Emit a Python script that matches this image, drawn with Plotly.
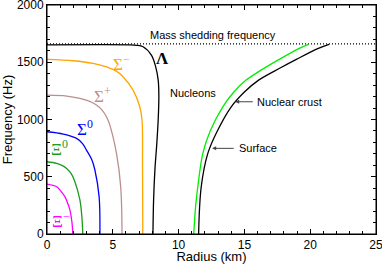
import plotly.graph_objects as go

# Data (radius km, frequency Hz)
lam_r = [8.05, 8.1, 8.2, 8.35, 8.45, 8.5, 8.45, 8.26, 7.93, 7.3, 6.8, 6.3, 0]
lam_f = [0, 300, 560, 800, 1000, 1200, 1344, 1460, 1562, 1635, 1648, 1652, 1652]

sm_r = [0, 2.0, 3.5, 4.52, 5.3, 5.78, 6.54, 7.05, 7.22, 7.26, 7.28]
sm_f = [1525, 1513, 1490, 1460, 1420, 1373, 1257, 1111, 995, 600, 0]

sp_r = [0, 1.5, 2.5, 3.2, 3.76, 4.2, 4.52, 4.75, 5.28, 5.6, 5.7]
sp_f = [1213, 1205, 1184, 1160, 1126, 1080, 1024, 960, 704, 413, 0]

s0_r = [0, 1.24, 2.25, 2.7, 3.0, 3.4, 3.64, 3.96, 4.02]
s0_f = [893, 873, 835, 790, 733, 650, 559, 326, 0]

x0_r = [0, 0.73, 1.2, 1.49, 1.85, 2.12, 2.5, 2.65, 2.72]
x0_f = [631, 617, 595, 573, 525, 457, 297, 150, 0]

xm_r = [0, 0.73, 1.05, 1.36, 1.6, 1.74, 1.9, 1.96]
xm_f = [436, 413, 375, 326, 260, 210, 100, 0]

crust_r = [11.15, 11.3, 11.46, 11.84, 12.4, 13.36, 14.2, 15.13, 16.39, 17.65, 19.17, 19.87]
crust_f = [0, 250, 413, 704, 900, 1111, 1240, 1344, 1440, 1525, 1621, 1656]

surf_r = [11.52, 11.72, 12.22, 12.98, 14.0, 15.0, 16.08, 17.75, 18.95, 20.62, 21.44]
surf_f = [0, 413, 704, 908, 1111, 1240, 1344, 1452, 1525, 1621, 1656]

shed_r = [0, 25]
shed_f = [1660, 1660]

x_ticks = [0, 5, 10, 15, 20, 25]
y_ticks = [0, 500, 1000, 1500, 2000]

fig = go.Figure()

def add(r, f, color, dash="solid", shape="spline", width=1.3):
    fig.add_trace(go.Scatter(x=r, y=f, mode="lines", line=dict(color=color, width=width, dash=dash, shape=shape),
                             showlegend=False, hoverinfo="skip"))

add(shed_r, shed_f, "black", dash="1px,2px", shape="linear", width=1.2)
add(lam_r, lam_f, "black")
add(sm_r, sm_f, "#FFA500")
add(sp_r, sp_f, "#BC8F8F")
add(s0_r, s0_f, "#0000FF")
add(x0_r, x0_f, "#1E9A1E")
add(xm_r, xm_f, "#FF00FF")
add(crust_r, crust_f, "#00EE00")
add(surf_r, surf_f, "black")

serif = "Liberation Serif, DejaVu Serif, serif"
sans = "Liberation Sans, Arial, sans-serif"

def lab(x, y, text, color, size=17, fam=serif):
    fig.add_annotation(x=x, y=y, text=text, showarrow=False, font=dict(family=fam, size=size, color=color))

lab(8.75, 1530, "<b>Λ</b>", "black", 17)
lab(5.66, 1495, "Σ<sup>−</sup>", "#FFA500", 17)
lab(4.2, 1215, "Σ<sup>+</sup>", "#BC8F8F", 17)
lab(2.85, 925, "Σ<sup>0</sup>", "#0000FF", 17)
lab(0.98, 750, "Ξ<sup>0</sup>", "#1E9A1E", 17)
lab(1.06, 125, "Ξ<sup>−</sup>", "#FF00FF", 17)

lab(12.6, 1740, "Mass shedding frequency", "black", 11, sans)
lab(11.1, 1233, "Nucleons", "black", 11, sans)

fig.add_annotation(x=14.3, y=1155, ax=15.75, ay=1155, axref="x", ayref="y", text="", showarrow=True,
                   arrowhead=2, arrowsize=0.8, arrowwidth=1, arrowcolor="#444")
fig.add_annotation(x=15.8, y=1155, text="Nuclear crust", showarrow=False, xanchor="left",
                   font=dict(family=sans, size=11, color="black"))
fig.add_annotation(x=12.55, y=748, ax=14.3, ay=748, axref="x", ayref="y", text="", showarrow=True,
                   arrowhead=2, arrowsize=0.8, arrowwidth=1, arrowcolor="#444")
fig.add_annotation(x=14.4, y=748, text="Surface", showarrow=False, xanchor="left",
                   font=dict(family=sans, size=11, color="black"))

axis_common = dict(showgrid=False, zeroline=False, showline=True, linecolor="black", linewidth=1,
                   mirror="allticks", ticks="inside", ticklen=5, tickcolor="black", automargin=False,
                   ticklabeloverflow="allow",
                   tickfont=dict(family=sans, size=12, color="black"))

fig.update_xaxes(range=[0, 25], tickmode="linear", tick0=0, dtick=5,
                 minor=dict(dtick=1, ticks="inside", ticklen=3, tickcolor="black"),
                 title=dict(text="Radius (km)", font=dict(family=sans, size=13, color="black")),
                 **axis_common)
fig.update_yaxes(range=[0, 2000], tickmode="linear", tick0=0, dtick=500,
                 minor=dict(dtick=100, ticks="inside", ticklen=3, tickcolor="black"),
                 title=dict(text="Frequency (Hz)", font=dict(family=sans, size=13, color="black")),
                 **axis_common)

fig.add_shape(type="rect", xref="paper", yref="paper", x0=0, y0=0, x1=1, y1=1,
              line=dict(color="black", width=1), layer="above")

fig.update_layout(width=382, height=264, margin=dict(l=47, r=6, t=5, b=30),
                  plot_bgcolor="white", paper_bgcolor="white")

fig.write_html("out.html", config={"displayModeBar": False},
               post_script="document.body.style.margin='0';")
